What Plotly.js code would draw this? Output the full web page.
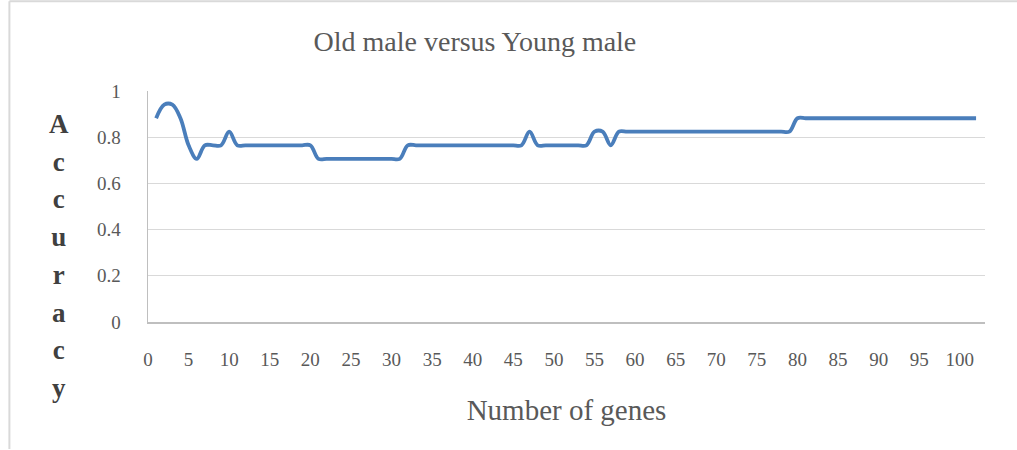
<!DOCTYPE html>
<html>
<head>
<meta charset="utf-8">
<script src="https://cdn.plot.ly/plotly-3.0.1.min.js"></script>
<style>html,body{margin:0;padding:0;background:#fff;}#chart{width:1017px;height:450px;}</style>
</head>
<body>
<div id="chart"></div>
<script>
var chartTitle = "Old male versus Young male";
var xTitle = "Number of genes";
var yTitle = "Accuracy";

var genes = [1,2,3,4,5,6,7,8,9,10,11,12,13,14,15,16,17,18,19,20,
  21,22,23,24,25,26,27,28,29,30,31,32,33,34,35,36,37,38,39,40,
  41,42,43,44,45,46,47,48,49,50,51,52,53,54,55,56,57,58,59,60,
  61,62,63,64,65,66,67,68,69,70,71,72,73,74,75,76,77,78,79,80,
  81,82,83,84,85,86,87,88,89,90,91,92,93,94,95,96,97,98,99,100,101,102];

var accuracy = [
  0.882,0.941,0.941,0.882,0.765,0.706,0.765,0.765,0.765,0.824,
  0.765,0.765,0.765,0.765,0.765,0.765,0.765,0.765,0.765,0.765,
  0.706,0.706,0.706,0.706,0.706,0.706,0.706,0.706,0.706,0.706,
  0.706,0.765,0.765,0.765,0.765,0.765,0.765,0.765,0.765,0.765,
  0.765,0.765,0.765,0.765,0.765,0.765,0.824,0.765,0.765,0.765,
  0.765,0.765,0.765,0.765,0.824,0.824,0.765,0.824,0.824,0.824,
  0.824,0.824,0.824,0.824,0.824,0.824,0.824,0.824,0.824,0.824,
  0.824,0.824,0.824,0.824,0.824,0.824,0.824,0.824,0.824,0.882,
  0.882,0.882,0.882,0.882,0.882,0.882,0.882,0.882,0.882,0.882,
  0.882,0.882,0.882,0.882,0.882,0.882,0.882,0.882,0.882,0.882,
  0.882,0.882];

var xTicks = [0,5,10,15,20,25,30,35,40,45,50,55,60,65,70,75,80,85,90,95,100];
var yTicks = [0,0.2,0.4,0.6,0.8,1];
var yTickText = ["0","0.2","0.4","0.6","0.8","1"];

var serif = "Liberation Serif, Times New Roman, serif";
var grey = "#595959";

var yTitleText = yTitle.split("").map(function(c){return '<span style="font-size:27px">'+c+'</span>';}).join("<br>");

var trace = {
  x: genes, y: accuracy, type: "scatter", mode: "lines",
  line: {color: "#4A7EBB", width: 3.8, shape: "spline", smoothing: 1},
  hoverinfo: "x+y"
};

var layout = {
  width: 1017, height: 450,
  margin: {l: 148, r: 32, t: 91, b: 128},
  paper_bgcolor: "#ffffff", plot_bgcolor: "#ffffff",
  showlegend: false,
  title: {text: chartTitle, font: {family: serif, size: 28, color: grey},
          x: 0.467, xref: "container", xanchor: "center",
          y: 0.909, yref: "container", yanchor: "middle"},
  xaxis: {
    range: [0, 103.1], tickmode: "array", tickvals: xTicks,
    showgrid: false, zeroline: false, showline: true, linecolor: "#bfbfbf", linewidth: 1.5,
    ticks: "", ticklabelstandoff: 20,
    tickfont: {family: serif, size: 19, color: grey},
    title: {text: xTitle, font: {family: serif, size: 29, color: grey}, standoff: 30},
    automargin: false
  },
  yaxis: {
    range: [0, 1], tickmode: "array", tickvals: yTicks, ticktext: yTickText,
    showgrid: true, gridcolor: "#d9d9d9", gridwidth: 1,
    zeroline: false, showline: true, linecolor: "#bfbfbf", linewidth: 1.5,
    ticks: "", ticklabelstandoff: 22,
    tickfont: {family: serif, size: 19, color: grey},
    automargin: false
  },
  annotations: [{
    text: yTitleText, xref: "paper", yref: "paper",
    x: -0.1058, y: 0.285, xanchor: "center", yanchor: "middle",
    showarrow: false, align: "center",
    font: {family: serif, size: 29, color: "#404040", weight: "bold"}
  }],
  shapes: [
    {type: "line", xref: "paper", yref: "paper", x0: -0.1656, x1: 1.04, y0: 1.3888, y1: 1.3888,
     line: {color: "#d9d9d9", width: 2}},
    {type: "line", xref: "paper", yref: "paper", x0: -0.1656, x1: -0.1656, y0: 1.3888, y1: -0.55,
     line: {color: "#d9d9d9", width: 2}}
  ]
};

Plotly.newPlot("chart", [trace], layout, {staticPlot: true, displayModeBar: false});
</script>
</body>
</html>
